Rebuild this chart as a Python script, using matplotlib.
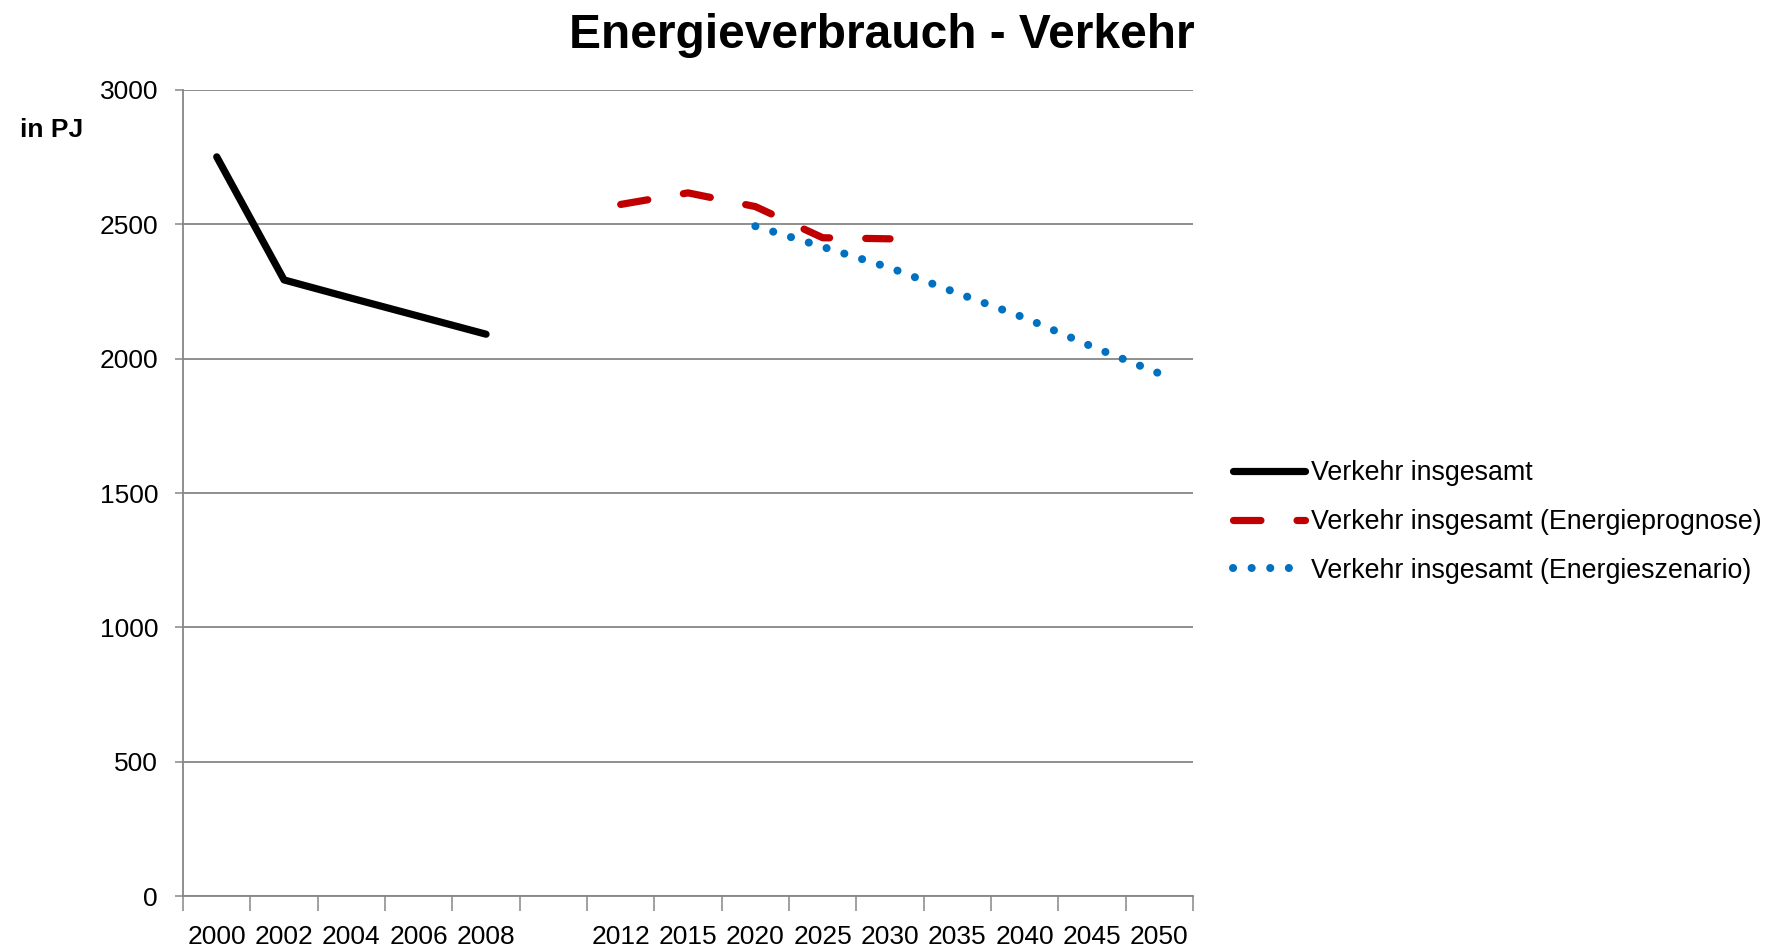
import matplotlib.pyplot as plt
import numpy as np

plt.rcParams['font.family'] = ['Liberation Sans', 'DejaVu Sans']

# categories (one blank slot between 2008 and 2012, as in the source chart)
years = ["2000", "2002", "2004", "2006", "2008", "",
         "2012", "2015", "2020", "2025", "2030", "2035", "2040", "2045", "2050"]

nan = np.nan
verkehr = [2751, 2293, 2225, 2158, 2091, nan,
           nan, nan, nan, nan, nan, nan, nan, nan, nan]
prognose = [nan, nan, nan, nan, nan, nan,
            2574, 2617, 2566, 2450, 2446, nan, nan, nan, nan]
szenario = [nan, nan, nan, nan, nan, nan,
            nan, nan, 2493, 2416, 2338, 2244, 2152, 2045, 1945]

labels = ["Verkehr insgesamt",
          "Verkehr insgesamt (Energieprognose)",
          "Verkehr insgesamt (Energieszenario)"]

fig = plt.figure(figsize=(17.74, 9.5), dpi=100)
ax = fig.add_axes([0.1032, 0.0568, 0.5693, 0.8485])

x = np.arange(len(years))
ax.plot(x, verkehr, color="black", lw=5.2, solid_capstyle="round",
        label=labels[0], zorder=3)
ax.plot(x, prognose, color="#C00000", lw=5.2, dashes=(3.8, 5.0),
        dash_capstyle="round", label=labels[1], zorder=3)
ax.plot(x, szenario, color="#0070C0", lw=5.8, dashes=(0.01, 2.3),
        dash_capstyle="round", label=labels[2], zorder=3)

ax.set_xlim(-0.5, len(years) - 0.5)
ax.set_ylim(0, 3000)
ax.set_yticks(np.arange(0, 3001, 500))

# category ticks between the slots, labels centred in them
ax.set_xticks(np.arange(-0.5, len(years), 1.0))
ax.set_xticklabels([])
ax.set_xticks(x, minor=True)
ax.set_xticklabels(years, minor=True)
ax.tick_params(axis="x", which="major", length=11, width=1.1, color="#868686",
               direction="out")
ax.tick_params(axis="x", which="minor", length=0, pad=21, labelsize=19)
ax.tick_params(axis="y", length=6, width=1.1, color="#868686", pad=12,
               labelsize=19)

ax.grid(axis="y", color="#868686", lw=1.3)
ax.set_axisbelow(True)
for s in ["top", "right"]:
    ax.spines[s].set_visible(False)
for s in ["left", "bottom"]:
    ax.spines[s].set_color("#868686")
    ax.spines[s].set_linewidth(1.3)

fig.text(0.497, 0.963, "Energieverbrauch - Verkehr", fontsize=34.5,
         fontweight="bold", ha="center", va="center")
fig.text(0.0115, 0.863, "in PJ", fontsize=19, fontweight="bold",
         ha="left", va="center")

fig.legend(loc="center left", bbox_to_anchor=(0.695, 0.4505), frameon=False,
           fontsize=19.3, handlelength=2.7, handletextpad=0.2,
           labelspacing=0.85, borderpad=0, borderaxespad=0)

fig.savefig("out.png", dpi=100)
